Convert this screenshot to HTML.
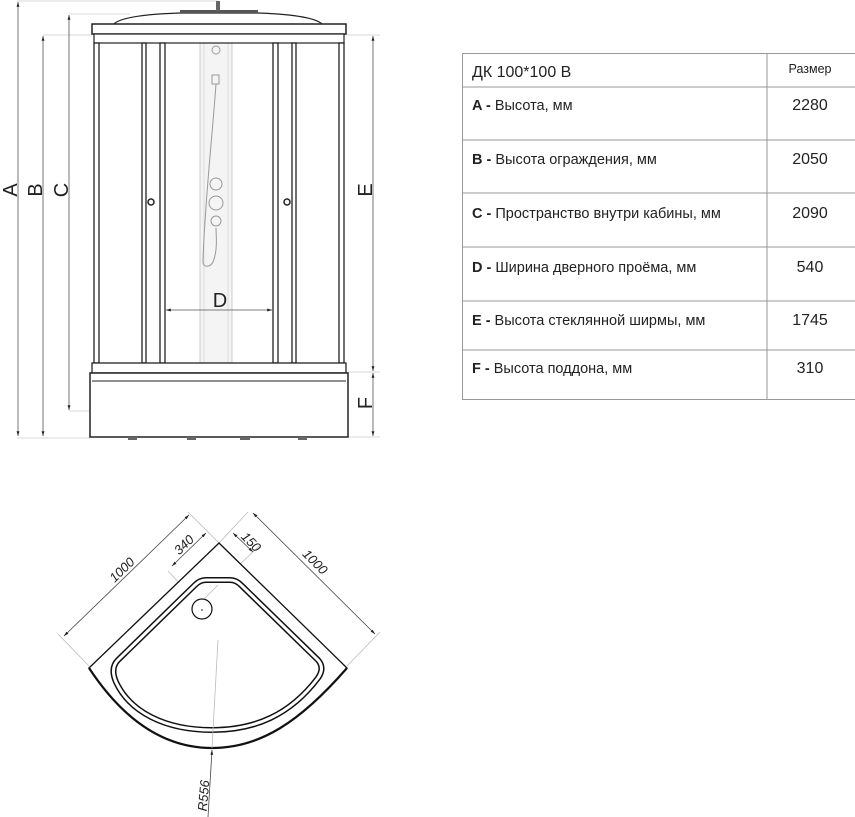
<!DOCTYPE html>
<html><head><meta charset="utf-8"><style>
html,body{margin:0;padding:0;background:#fff;}
body{width:855px;height:817px;overflow:hidden;position:relative;}
svg{position:absolute;left:0;top:0;}
.t{font-family:"Liberation Sans","DejaVu Sans",sans-serif;}
</style></head><body>
<svg width="855" height="817" viewBox="0 0 855 817" xmlns="http://www.w3.org/2000/svg">
<defs>
<marker id="ar" viewBox="0 0 10 10" refX="10" refY="5" markerWidth="6" markerHeight="6" orient="auto-start-reverse"><path d="M0,2 L10,5 L0,8 z" fill="#222"/></marker>
</defs>
<g stroke="#ccc" stroke-width="0.8">
<line x1="17" y1="1" x2="218" y2="1"/>
<line x1="69" y1="14" x2="130" y2="14"/>
<line x1="43" y1="35" x2="92" y2="35"/>
<line x1="346" y1="35" x2="380" y2="35"/>
<line x1="348" y1="372" x2="380" y2="372"/>
<line x1="348" y1="437" x2="380" y2="437"/>
<line x1="17" y1="438" x2="90" y2="438"/>
<line x1="69" y1="411" x2="148" y2="411"/>
</g>
<g stroke="#555" stroke-width="0.8">
<line x1="18" y1="2" x2="18" y2="436" marker-start="url(#ar)" marker-end="url(#ar)"/>
<line x1="43" y1="36" x2="43" y2="436" marker-start="url(#ar)" marker-end="url(#ar)"/>
<line x1="69" y1="15" x2="69" y2="410" marker-start="url(#ar)" marker-end="url(#ar)"/>
<line x1="373" y1="36" x2="373" y2="371" marker-start="url(#ar)" marker-end="url(#ar)"/>
<line x1="373" y1="373" x2="373" y2="436" marker-start="url(#ar)" marker-end="url(#ar)"/>
</g>
<g class="t" font-size="20" fill="#222" text-anchor="middle">
<text transform="translate(17,190) rotate(-90)">A</text>
<text transform="translate(42,190) rotate(-90)">B</text>
<text transform="translate(68,190) rotate(-90)">C</text>
<text transform="translate(372,190) rotate(-90)">E</text>
<text transform="translate(372,403) rotate(-90)">F</text>
</g>
<rect x="200" y="43" width="32" height="320" fill="#f4f4f4" stroke="#ccc" stroke-width="1"/>
<line x1="204" y1="43" x2="204" y2="363" stroke="#ddd"/>
<line x1="228" y1="43" x2="228" y2="363" stroke="#ddd"/>
<g fill="none" stroke="#999" stroke-width="1">
<circle cx="216" cy="50" r="4"/>
<rect x="212" y="75" width="7" height="9"/>
<path d="M216,84 C212,140 205,200 203,260 C202,268 210,268 213,262 C218,250 216,235 216,228"/>
<circle cx="216" cy="184" r="6"/><circle cx="216" cy="203" r="7"/><circle cx="216" cy="221" r="5"/>
</g>
<path d="M113,25 Q120,15 180,13 L258,13 Q315,15 323,25 Z" fill="#fff" stroke="#222" stroke-width="1.2"/>
<rect x="180" y="10" width="78" height="3" fill="#555"/>
<rect x="216" y="1" width="4" height="10" fill="#666"/>
<rect x="92" y="24" width="254" height="10" fill="#fff" stroke="#222" stroke-width="1.5"/>
<rect x="94" y="34" width="250" height="9" fill="#fff" stroke="#222" stroke-width="1.2"/>
<g fill="#fff" stroke="#222" stroke-width="1.3">
<rect x="94" y="43" width="5" height="320"/>
<rect x="339" y="43" width="5" height="320"/>
<rect x="142" y="43" width="4" height="320"/>
<rect x="160" y="43" width="5" height="320"/>
<rect x="273" y="43" width="5" height="320"/>
<rect x="292" y="43" width="4" height="320"/>
</g>
<circle cx="151" cy="202" r="3" fill="#fff" stroke="#222" stroke-width="1.5"/>
<circle cx="287" cy="202" r="3" fill="#fff" stroke="#222" stroke-width="1.5"/>
<line x1="166" y1="310" x2="272" y2="310" stroke="#555" stroke-width="0.8" marker-start="url(#ar)" marker-end="url(#ar)"/>
<text class="t" x="220" y="307" font-size="20" fill="#222" text-anchor="middle">D</text>
<rect x="92" y="363" width="254" height="10" fill="#fff" stroke="#222" stroke-width="1.3"/>
<rect x="90" y="373" width="258" height="64" fill="#fff" stroke="#222" stroke-width="1.5"/>
<line x1="92" y1="381" x2="346" y2="381" stroke="#222" stroke-width="1"/>
<g fill="#666"><rect x="128" y="437" width="9" height="3"/><rect x="187" y="437" width="9" height="3"/><rect x="240" y="437" width="10" height="3"/><rect x="298" y="437" width="9" height="3"/></g>

<g stroke="#999" stroke-width="1" fill="none">
<rect x="462.5" y="53.5" width="400" height="346"/>
<line x1="767" y1="53" x2="767" y2="399"/>
<line x1="462" y1="87" x2="855" y2="87"/>
<line x1="462" y1="140" x2="855" y2="140"/>
<line x1="462" y1="193" x2="855" y2="193"/>
<line x1="462" y1="247" x2="855" y2="247"/>
<line x1="462" y1="301" x2="855" y2="301"/>
<line x1="462" y1="350" x2="855" y2="350"/>
</g>
<g class="t" fill="#222" font-size="14.5">
<text x="472" y="77" font-size="16">ДК 100*100 В</text>
<text x="810" y="73" font-size="12.5" text-anchor="middle">Размер</text>
<text x="472" y="110"><tspan font-weight="bold">A -</tspan> Высота, мм</text>
<text x="472" y="164"><tspan font-weight="bold">B -</tspan> Высота ограждения, мм</text>
<text x="472" y="218"><tspan font-weight="bold">C -</tspan> Пространство внутри кабины, мм</text>
<text x="472" y="272"><tspan font-weight="bold">D -</tspan> Ширина дверного проёма, мм</text>
<text x="472" y="325"><tspan font-weight="bold">E -</tspan> Высота стеклянной ширмы, мм</text>
<text x="472" y="373"><tspan font-weight="bold">F -</tspan> Высота поддона, мм</text>
<g text-anchor="middle" font-size="16">
<text x="810" y="110">2280</text><text x="810" y="164">2050</text><text x="810" y="218">2090</text>
<text x="810" y="272">540</text><text x="810" y="325">1745</text><text x="810" y="373">310</text>
</g>
</g>

<g stroke="#bbb" stroke-width="0.8" fill="none">
<line x1="89" y1="666" x2="58" y2="634"/>
<line x1="219" y1="543" x2="188" y2="512"/>
<line x1="219" y1="543" x2="248" y2="512"/>
<line x1="347" y1="666" x2="380" y2="632"/>
<line x1="168" y1="571" x2="182" y2="586"/>
<line x1="200" y1="603" x2="260" y2="545"/>
<line x1="212" y1="748" x2="218" y2="640"/>
</g>
<g stroke="#444" stroke-width="0.8" fill="none">
<line x1="64" y1="636" x2="189" y2="515" marker-start="url(#ar)" marker-end="url(#ar)"/>
<line x1="253" y1="513" x2="375" y2="634" marker-start="url(#ar)" marker-end="url(#ar)"/>
<line x1="172" y1="566" x2="206" y2="533" marker-start="url(#ar)" marker-end="url(#ar)"/>
<line x1="233" y1="533" x2="253" y2="552" marker-start="url(#ar)" marker-end="url(#ar)"/>
<line x1="208" y1="817" x2="212" y2="750" marker-end="url(#ar)"/>
</g>
<path d="M219,543 L347,668 C300,722 260,748 212,748 C160,748 120,715 89,668 Z" fill="#fff" stroke="#111" stroke-width="1.3"/>
<path d="M89,668 C120,715 160,748 212,748 C260,748 300,722 347,668" fill="none" stroke="#111" stroke-width="2.2"/>
<path d="M206,580 L230,580 Q236,580 241,585 L318,660 Q325,668 318,678 C290,715 255,730 212,730 C165,730 130,712 116,682 Q110,668 118,660 L195,585 Q200,580 206,580 Z" fill="#fff" stroke="#111" stroke-width="6"/>
<path d="M206,580 L230,580 Q236,580 241,585 L318,660 Q325,668 318,678 C290,715 255,730 212,730 C165,730 130,712 116,682 Q110,668 118,660 L195,585 Q200,580 206,580 Z" fill="none" stroke="#fff" stroke-width="3"/>
<line x1="200" y1="603" x2="218" y2="585" stroke="#bbb" stroke-width="0.8"/>
<circle cx="202" cy="609" r="10" fill="#fff" stroke="#111" stroke-width="1.2"/>
<circle cx="202" cy="610" r="0.8" fill="#111"/>
<line x1="212" y1="748" x2="218" y2="640" stroke="#bbb" stroke-width="0.8"/>
<g class="t" font-size="13" font-style="italic" fill="#222" text-anchor="middle">
<text transform="translate(125,573) rotate(-44)">1000</text>
<text transform="translate(312,565) rotate(45)">1000</text>
<text transform="translate(187,548) rotate(-44)">340</text>
<text transform="translate(248,545) rotate(45)">150</text>
<text transform="translate(208,796) rotate(-85)">R556</text>
</g>
</svg>
</body></html>
